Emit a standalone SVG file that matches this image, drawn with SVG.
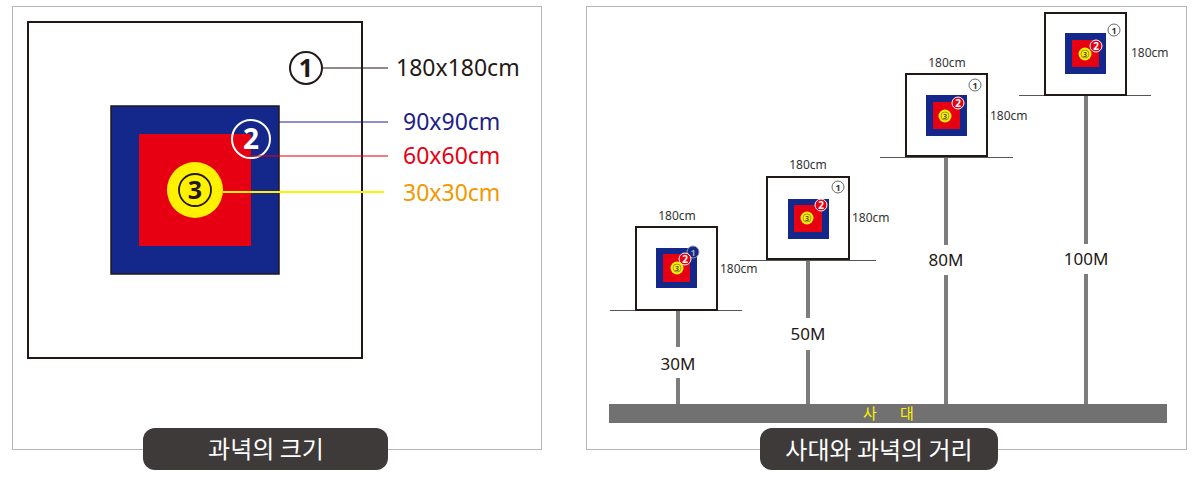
<svg xmlns="http://www.w3.org/2000/svg" width="1200" height="480" viewBox="0 0 1200 480">
<style>
.panel{fill:#fff;stroke:#b5b5b5;stroke-width:1}
.tgt{fill:#fff;stroke:#231815;stroke-width:2}
.blue{fill:#13288a}
.red{fill:#e60012}
.yel{fill:#fff100}
.lbl{fill:#3e3a39}
.lbltxt{fill:#fff;font-family:"Noto Sans CJK KR","Noto Sans",sans-serif;font-size:24px;text-anchor:middle}
.big{font-family:"Noto Sans","Noto Sans CJK KR",sans-serif;font-size:23px}
.sm{font-family:"Noto Sans","Noto Sans CJK KR",sans-serif;font-size:12px;fill:#333}
.dist{font-family:"Noto Sans","Noto Sans CJK KR",sans-serif;font-size:17px;fill:#231815;text-anchor:middle}
.base{stroke:#555;stroke-width:1}
.post{stroke:#7d7d7d;stroke-width:4}
.num{font-family:"Noto Sans","DejaVu Sans",sans-serif;text-anchor:middle;font-weight:bold}
</style>
<rect class="panel" x="12.5" y="6.5" width="529" height="443"/>
<rect class="panel" x="586.5" y="6.5" width="600" height="443"/>

<g id="big-target">
<rect class="tgt" x="28" y="22" width="334" height="336"/>
<rect class="blue" x="111" y="106" width="168" height="168" stroke="#231815" stroke-width="1.5"/>
<rect class="red" x="139" y="134" width="112" height="112"/>
<circle class="yel" cx="195" cy="190" r="28"/>
<circle cx="195" cy="190" r="16" fill="none" stroke="#231815" stroke-width="1.8"/>
<text class="num" x="195" y="199" font-size="25" fill="#231815">3</text>
<circle cx="251" cy="139" r="19" fill="none" stroke="#fff" stroke-width="2"/>
<text class="num" x="251" y="149" font-size="28" fill="#fff">2</text>
<circle cx="306" cy="68" r="16" fill="#fff" stroke="#231815" stroke-width="2"/>
<text class="num" x="306" y="77" font-size="25" fill="#231815">1</text>
</g>

<g id="leaders">
<line x1="322" y1="68" x2="388" y2="68" stroke="#231815" stroke-width="1.2"/>
<line x1="279" y1="122" x2="388" y2="122" stroke="#1d2088" stroke-width="1.2"/>
<line x1="245" y1="156" x2="388" y2="156" stroke="#e60012" stroke-width="1.2"/>
<line x1="223" y1="192" x2="384" y2="192" stroke="#fff100" stroke-width="2"/>
</g>
<g id="size-labels">
<text class="big" x="396" y="76" fill="#231815">180x180cm</text>
<text class="big" x="403" y="130" fill="#1d2088">90x90cm</text>
<text class="big" x="403" y="164" fill="#e60012">60x60cm</text>
<text class="big" x="403" y="201" fill="#f39800">30x30cm</text>
</g>

<g id="label-left">
<rect class="lbl" x="143" y="428" width="245" height="42" rx="12"/>
<text class="lbltxt" x="266" y="458">과녁의 크기</text>
</g>

<g id="shooting-line">
<rect x="609" y="404" width="558" height="19" fill="#727171"/>
<text x="870" y="419" font-family="Noto Sans CJK KR,sans-serif" font-size="15" fill="#fff100" text-anchor="middle">사</text>
<text x="907" y="419" font-family="Noto Sans CJK KR,sans-serif" font-size="15" fill="#fff100" text-anchor="middle">대</text>
</g>

<g id="connectors">
<line class="post" x1="678" y1="310" x2="678" y2="347"/>
<line class="post" x1="678" y1="378" x2="678" y2="404"/>
<line class="post" x1="808" y1="260" x2="808" y2="318"/>
<line class="post" x1="808" y1="350" x2="808" y2="404"/>
<line class="post" x1="946" y1="157" x2="946" y2="245"/>
<line class="post" x1="946" y1="275" x2="946" y2="404"/>
<line class="post" x1="1086" y1="95" x2="1086" y2="244"/>
<line class="post" x1="1086" y1="274" x2="1086" y2="404"/>
</g>

<g id="target-30">
<line class="base" x1="610" y1="310.5" x2="742" y2="310.5"/>
<rect class="tgt" x="636" y="227" width="81" height="83"/>
<rect class="blue" x="656" y="248" width="41" height="40"/>
<rect class="red" x="663" y="254" width="27" height="28"/>
<circle cx="693" cy="252" r="6" fill="#13288a" stroke="#999" stroke-width="1"/>
<text class="num" x="693" y="256" font-size="9" fill="#aaa" font-weight="normal">1</text>
<circle cx="685" cy="259" r="6" fill="#e60012" stroke="#fff" stroke-width="1"/>
<text class="num" x="685" y="263" font-size="10" fill="#fff">2</text>
<circle class="yel" cx="677" cy="268" r="6.5"/>
<circle cx="677" cy="268" r="4" fill="none" stroke="#554" stroke-width="0.6"/>
<text class="num" x="677" y="271" font-size="7" fill="#554" font-weight="normal">3</text>
<text class="sm" x="677" y="220" text-anchor="middle">180cm</text>
<text class="sm" x="720" y="273">180cm</text>
<text class="dist" x="678" y="370">30M</text>
</g>

<g id="target-50">
<line class="base" x1="740" y1="260.5" x2="876" y2="260.5"/>
<rect class="tgt" x="767" y="177" width="82" height="82"/>
<rect class="blue" x="788" y="199" width="41" height="40"/>
<rect class="red" x="794" y="205" width="28" height="27"/>
<circle class="yel" cx="807" cy="218" r="6.5"/>
<circle cx="807" cy="218" r="4" fill="none" stroke="#554" stroke-width="0.6"/>
<text class="num" x="807" y="221" font-size="7" fill="#554" font-weight="normal">3</text>
<circle cx="821" cy="205" r="6" fill="#e60012" stroke="#fff" stroke-width="1"/>
<text class="num" x="821" y="209" font-size="10" fill="#fff">2</text>
<circle cx="838" cy="187" r="6" fill="#fff" stroke="#444" stroke-width="0.8"/>
<text class="num" x="838" y="191" font-size="9" fill="#333" font-weight="normal">1</text>
<text class="sm" x="808" y="169" text-anchor="middle">180cm</text>
<text class="sm" x="852" y="222">180cm</text>
<text class="dist" x="808" y="340">50M</text>
</g>

<g id="target-80">
<line class="base" x1="880" y1="157.5" x2="1013" y2="157.5"/>
<rect class="tgt" x="906" y="74" width="81" height="82"/>
<rect class="blue" x="926" y="95" width="41" height="41"/>
<rect class="red" x="933" y="102" width="27" height="27"/>
<circle class="yel" cx="945" cy="116" r="6.5"/>
<circle cx="945" cy="116" r="4" fill="none" stroke="#554" stroke-width="0.6"/>
<text class="num" x="945" y="119" font-size="7" fill="#554" font-weight="normal">3</text>
<circle cx="958" cy="103" r="6" fill="#e60012" stroke="#fff" stroke-width="1"/>
<text class="num" x="958" y="107" font-size="10" fill="#fff">2</text>
<circle cx="975" cy="85" r="6" fill="#fff" stroke="#444" stroke-width="0.8"/>
<text class="num" x="975" y="89" font-size="9" fill="#333" font-weight="normal">1</text>
<text class="sm" x="947" y="67" text-anchor="middle">180cm</text>
<text class="sm" x="990" y="120">180cm</text>
<text class="dist" x="946" y="266">80M</text>
</g>

<g id="target-100">
<line class="base" x1="1019" y1="95.5" x2="1151" y2="95.5"/>
<rect class="tgt" x="1045" y="13" width="81" height="82"/>
<rect class="blue" x="1065" y="33" width="41" height="41"/>
<rect class="red" x="1072" y="40" width="27" height="27"/>
<circle class="yel" cx="1085" cy="54" r="6.5"/>
<circle cx="1085" cy="54" r="4" fill="none" stroke="#554" stroke-width="0.6"/>
<text class="num" x="1085" y="57" font-size="7" fill="#554" font-weight="normal">3</text>
<circle cx="1096" cy="46" r="6" fill="#e60012" stroke="#fff" stroke-width="1"/>
<text class="num" x="1096" y="50" font-size="10" fill="#fff">2</text>
<circle cx="1114" cy="30" r="6" fill="#fff" stroke="#444" stroke-width="0.8"/>
<text class="num" x="1114" y="34" font-size="9" fill="#333" font-weight="normal">1</text>
<text class="sm" x="1131" y="57">180cm</text>
<text class="dist" x="1086" y="265">100M</text>
</g>

<g id="label-right">
<rect class="lbl" x="760" y="428" width="238" height="42" rx="12"/>
<text class="lbltxt" x="879" y="459" font-size="25">사대와 과녁의 거리</text>
</g>
</svg>
